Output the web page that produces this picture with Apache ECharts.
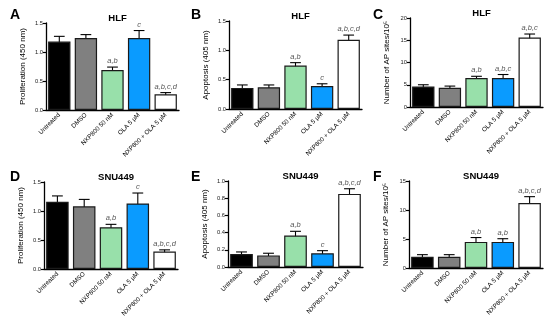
<!DOCTYPE html>
<html><head><meta charset="utf-8">
<script src="https://cdn.jsdelivr.net/npm/echarts@6/dist/echarts.min.js"></script>
<style>html,body{margin:0;padding:0;background:#fff}#c{width:550px;height:324px}</style>
</head><body><div id="c"></div>
<script>
const categories = ['Untreated', 'DMSO', 'NXP800 50 nM', 'OLA 5 μM', 'NXP800 + OLA 5 μM'];
const barColors = ['#000000', '#808080', '#98e0aa', '#0a9bff', '#ffffff'];

const hlfProlif = [1.18, 1.24, 0.69, 1.24, 0.27];
const hlfProlifErr = [0.09, 0.06, 0.05, 0.13, 0.03];
const hlfProlifSig = ['', '', 'a,b', 'c', 'a,b,c,d'];

const hlfApop = [0.36, 0.37, 0.74, 0.39, 1.18];
const hlfApopErr = [0.05, 0.04, 0.05, 0.04, 0.08];
const hlfApopSig = ['', '', 'a,b', 'c', 'a,b,c,d'];

const hlfAP = [4.6, 4.3, 6.5, 6.5, 15.6];
const hlfAPErr = [0.4, 0.4, 0.4, 0.8, 0.8];
const hlfAPSig = ['', '', 'a,b', 'a,b,c', 'a,b,c'];

const snuProlif = [1.16, 1.08, 0.72, 1.13, 0.30];
const snuProlifErr = [0.10, 0.12, 0.05, 0.18, 0.03];
const snuProlifSig = ['', '', 'a,b', 'c', 'a,b,c,d'];

const snuApop = [0.15, 0.135, 0.365, 0.16, 0.85];
const snuApopErr = [0.025, 0.025, 0.05, 0.03, 0.06];
const snuApopSig = ['', '', 'a,b', 'c', 'a,b,c,d'];

const snuAP = [1.95, 1.95, 4.5, 4.5, 11.2];
const snuAPErr = [0.35, 0.35, 0.75, 0.55, 1.1];
const snuAPSig = ['', '', 'a,b', 'a,b', 'a,b,c,d'];

const panels = [
  {letter: 'A', title: 'HLF', yName: 'Proliferation (450 nm)', max: 1.5, interval: 0.5, dec: 1, vals: hlfProlif, err: hlfProlifErr, sig: hlfProlifSig},
  {letter: 'B', title: 'HLF', yName: 'Apoptosis (405 nm)', max: 1.5, interval: 0.5, dec: 1, vals: hlfApop, err: hlfApopErr, sig: hlfApopSig},
  {letter: 'C', title: 'HLF', yName: 'Number of AP sites/10⁵', max: 20, interval: 5, dec: 0, vals: hlfAP, err: hlfAPErr, sig: hlfAPSig},
  {letter: 'D', title: 'SNU449', yName: 'Proliferation (450 nm)', max: 1.5, interval: 0.5, dec: 1, vals: snuProlif, err: snuProlifErr, sig: snuProlifSig},
  {letter: 'E', title: 'SNU449', yName: 'Apoptosis (405 nm)', max: 1.0, interval: 0.2, dec: 1, vals: snuApop, err: snuApopErr, sig: snuApopSig},
  {letter: 'F', title: 'SNU449', yName: 'Number of AP sites/10⁵', max: 15, interval: 5, dec: 0, vals: snuAP, err: snuAPErr, sig: snuAPSig}
];

const layout = [
  {left: 46, top: 23, width: 133, height: 87, lx: 5, ly: 3},
  {left: 229, top: 21, width: 133, height: 88, lx: 186, ly: 3},
  {left: 410, top: 18, width: 133, height: 89, lx: 368, ly: 3},
  {left: 44, top: 182, width: 134, height: 87, lx: 5, ly: 165},
  {left: 228, top: 181, width: 135, height: 86, lx: 186, ly: 165},
  {left: 409, top: 181, width: 134, height: 87, lx: 368, ly: 165}
];

const FONT = 'Liberation Sans, Arial, sans-serif';
const chart = echarts.init(document.getElementById('c'), null, {renderer: 'canvas'});

const grid = [], xAxis = [], yAxis = [], series = [], title = [];
panels.forEach((p, i) => {
  const L = layout[i];
  grid.push({left: L.left, top: L.top, width: L.width, height: L.height, containLabel: false});
  title.push({text: p.letter, left: L.lx, top: L.ly, textStyle: {fontFamily: FONT, fontWeight: 'bold', fontSize: 14, color: '#000'}});
  title.push({text: p.title, left: L.left + L.width / 2, top: L.top - 15, textAlign: 'center',
    textStyle: {fontFamily: FONT, fontWeight: 'bold', fontSize: 9.5, color: '#000'}});
  xAxis.push({
    type: 'category', gridIndex: i, data: categories,
    axisLine: {lineStyle: {color: '#000', width: 1.3}},
    axisTick: {alignWithLabel: true, length: 3, lineStyle: {color: '#000', width: 1.2}},
    axisLabel: {rotate: 45, fontSize: 6.3, fontFamily: FONT, color: '#000', margin: 4, interval: 0}
  });
  yAxis.push({
    type: 'value', gridIndex: i, min: 0, max: p.max, interval: p.interval,
    name: p.yName, nameLocation: 'middle', nameGap: 19,
    nameTextStyle: {fontFamily: FONT, fontSize: 8, color: '#000'},
    axisLine: {show: true, lineStyle: {color: '#000', width: 1.3}},
    axisTick: {show: true, length: 3, lineStyle: {color: '#000', width: 1.2}},
    splitLine: {show: false},
    axisLabel: {fontSize: 5.8, fontFamily: FONT, color: '#222', margin: 3,
      formatter: v => v.toFixed(p.dec)}
  });
  series.push({
    type: 'bar', xAxisIndex: i, yAxisIndex: i, barCategoryGap: '16%',
    data: p.vals.map((v, k) => ({value: v, itemStyle: {color: barColors[k]}})),
    itemStyle: {borderColor: '#1a1a1a', borderWidth: 1.2},
    silent: true, animation: false
  });
  series.push({
    type: 'custom', xAxisIndex: i, yAxisIndex: i, animation: false, silent: true,
    data: p.vals.map((v, k) => [k, v, p.err[k]]),
    renderItem: (params, api) => {
      const k = api.value(0), v = api.value(1), e = api.value(2);
      const hi = api.coord([k, v + e]);
      const lo = api.coord([k, v - e]);
      const bw = api.size([1, 0])[0] * 0.84;
      const cap = bw * 0.24;
      const st = {stroke: '#000', lineWidth: 1.1};
      const children = [
        {type: 'line', shape: {x1: hi[0], y1: hi[1], x2: lo[0], y2: lo[1]}, style: st},
        {type: 'line', shape: {x1: hi[0] - cap, y1: hi[1], x2: hi[0] + cap, y2: hi[1]}, style: st},
        {type: 'line', shape: {x1: lo[0] - cap, y1: lo[1], x2: lo[0] + cap, y2: lo[1]}, style: st}
      ];
      const s = p.sig[k];
      if (s) {
        children.push({type: 'text', style: {text: s, x: hi[0], y: hi[1] - 2, align: 'center', verticalAlign: 'bottom',
          font: 'italic 7.5px ' + FONT, fill: '#555'}});
      }
      return {type: 'group', children};
    }
  });
});

chart.setOption({animation: false, backgroundColor: '#fff', title, grid, xAxis, yAxis, series});
</script>
</body></html>
